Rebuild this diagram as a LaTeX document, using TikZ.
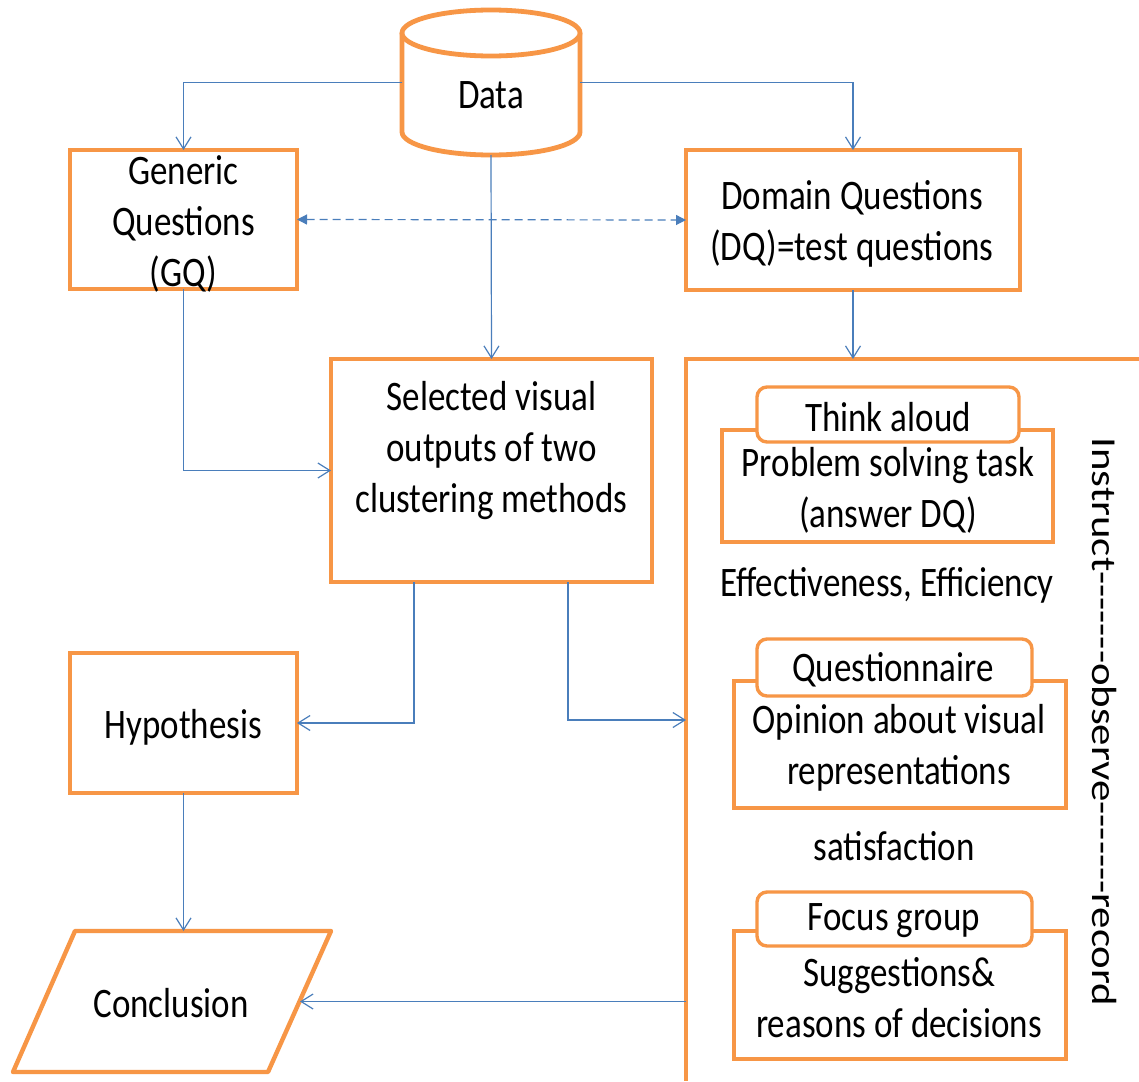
\documentclass[tikz,border=0pt]{standalone}
\usepackage{fontspec}
\setmainfont{Carlito}[FakeStretch=0.833]
\newfontfamily\rotfont{Carlito}
\usetikzlibrary{arrows.meta,calc}
\definecolor{orng}{HTML}{F79646}
\definecolor{blu}{HTML}{4A7EBB}
\newcommand\hy{\mbox{-}}
\begin{document}
\begin{tikzpicture}[x=0.5pt,y=-0.5pt,
  font=\fontsize{21}{25.5}\selectfont,
  every node/.style={inner sep=0pt, outer sep=0pt},
  mainbox/.style={draw=orng, line width=2.4pt, fill=white},
  innerbox/.style={draw=orng, line width=1.7pt, fill=white},
  tabbox/.style={draw=orng, line width=1.7pt, fill=white, rounded corners=5pt},
  txt/.style={align=center},
  conn/.style={draw=blu, line width=0.6pt, -{Straight Barb[length=6pt,width=7.5pt]}},
  dconn/.style={draw=blu, line width=0.6pt, dash pattern=on 4pt off 2.5pt,
    {Triangle[length=5pt,width=5pt]}-{Triangle[length=5pt,width=5pt]}}]
\useasboundingbox (0,0) rectangle (1139,1081);
\fill[white] (0,0) rectangle (1139,1081);

% Data cylinder
\node[minimum width=89pt, minimum height=72.5pt] (data) at (491,82.5) {};
\draw[orng, line width=2.4pt, fill=white]
  (402,33) -- (402,132) arc[start angle=180, end angle=0, x radius=89, y radius=23] -- (580,33);
\draw[orng, line width=2.4pt, fill=white] (491,33) ellipse [x radius=89, y radius=23];
\node[txt] (datatxt) at (491,95) {Data};

% main boxes
\node[mainbox, minimum width=113.5pt, minimum height=69.5pt] (gq) at (183.5,219.5) {};
\node[txt] (gqtxt) at (183.5,224) {Generic\\Questions\\(GQ)};
\node[mainbox, minimum width=167pt, minimum height=70pt] (dq) at (853,220) {};
\node[txt] (dqtxt) at (852,224) {Domain Questions\\(DQ)=test questions};
\node[mainbox, minimum width=160.5pt, minimum height=111.5pt] (sel) at (491.5,470.5) {};
\node[txt] (seltxt) at (491.5,451) {Selected visual\\outputs of two\\clustering methods};
\node[mainbox, minimum width=113.5pt, minimum height=70pt] (hyp) at (183.5,723) {};
\node[txt] (hyptxt) at (183.5,727) {Hypothesis};

% Conclusion parallelogram
\node[minimum width=159pt, minimum height=70.5pt] (conc) at (172,1001.5) {};
\draw[orng, line width=2.2pt, fill=white, line join=round]
  (75,931) -- (331,931) -- (268,1072) -- (13,1072) -- cycle;
\coordinate (concE) at (300,1001.5);
\node[txt] (conctxt) at (171,1003) {Conclusion};

% study frame
\node[minimum width=226.5pt, minimum height=361pt] (study) at (912.5,720) {};
\draw[orng, line width=1.7pt] (study.north east) -- (study.north west) -- (study.south west);

% inner boxes
\node[innerbox, minimum width=165.5pt, minimum height=56pt] (ta) at (887.5,486) {};
\node[txt] (tatxt) at (888,490) {Problem solving task\\(answer DQ)};
\node[tabbox, minimum width=131pt, minimum height=27.5pt] (tatab) at (888,414.5) {};
\node[txt] (tatabtxt) at (888,417) {Think aloud};
\node[txt] (eff) at (887,585) {Effectiveness, Efficiency};

\node[innerbox, minimum width=166pt, minimum height=63.5pt] (qq) at (900,744.5) {};
\node[txt] (qqtxt) at (899,748) {Opinion about visual\\representations};
\node[tabbox, minimum width=137.5pt, minimum height=28.5pt] (qtab) at (894.5,667.5) {};
\node[txt] (qtabtxt) at (893,670) {Questionnaire};
\node[txt] (sat) at (894,846) {satisfaction};

\node[innerbox, minimum width=166pt, minimum height=64pt] (fg) at (900,995) {};
\node[txt] (fgtxt) at (899,998) {Suggestions\&\\reasons of decisions};
\node[tabbox, minimum width=137.5pt, minimum height=27pt] (fgtab) at (894.5,919) {};
\node[txt] (fgtabtxt) at (894,921) {Focus group};

\node[rotate=-90] (obs) at (1105,722)
  {\rotfont\scalebox{1.02}[0.833]{Instruct\hy\hy\hy\hy\hy\hy\hy observe\hy\hy\hy\hy\hy\hy\hy record}};

% connectors
\draw[conn] (data.west) -| (gq.north);
\draw[conn] (data.east) -| (dq.north);
\draw[conn] (data.south) -- (sel.north);
\draw[dconn] (gq.east) -- (dq.west);
\draw[conn] (gq.south) |- (sel.west);
\draw[conn] (dq.south) -- (dq.south |- study.north);
\draw[conn] ([xshift=-38.75pt]sel.south) |- (hyp.east);
\draw[conn] ([xshift=38.25pt]sel.south) |- (study.west);
\draw[conn] (hyp.south) -- (hyp.south |- conc.north);
\draw[conn] (study.west |- concE) -- (concE);
\end{tikzpicture}
\end{document}
